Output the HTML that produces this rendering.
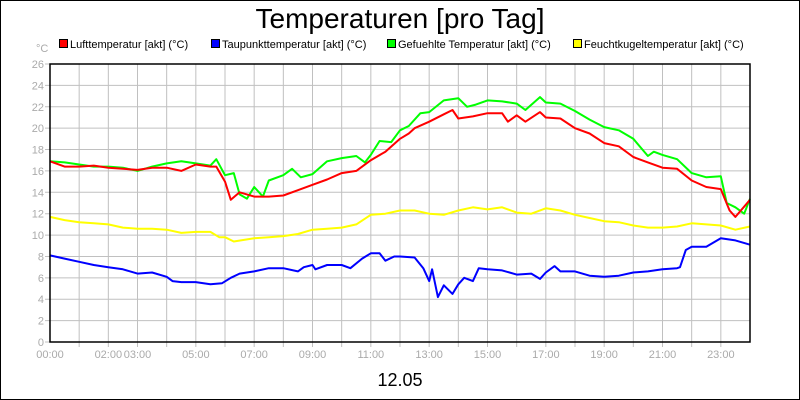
<!DOCTYPE html>
<html><head><meta charset="utf-8"><style>
body{margin:0;background:#fff}
svg{display:block;font-family:"Liberation Sans",sans-serif}
</style></head><body>
<svg id="chart" width="800" height="400" viewBox="0 0 800 400" xmlns="http://www.w3.org/2000/svg">
<rect x="0.5" y="0.5" width="799" height="399" fill="#fff" stroke="#000"/>
<text x="400" y="28" font-size="28" text-anchor="middle">Temperaturen [pro Tag]</text>
<g font-size="11">
<g><rect x="59.5" y="39.5" width="8" height="8" fill="#f00" stroke="#000"/><text x="70" y="48">Lufttemperatur [akt] (°C)</text></g>
<g><rect x="211.5" y="39.5" width="8" height="8" fill="#00f" stroke="#000"/><text x="222" y="48">Taupunkttemperatur [akt] (°C)</text></g>
<g><rect x="387.5" y="39.5" width="8" height="8" fill="#0f0" stroke="#000"/><text x="398" y="48">Gefuehlte Temperatur [akt] (°C)</text></g>
<g><rect x="573.5" y="39.5" width="8" height="8" fill="#ff0" stroke="#000"/><text x="584" y="48">Feuchtkugeltemperatur [akt] (°C)</text></g>
</g>
<text x="36" y="52" font-size="11" fill="#aaa">°C</text>
<g id="grid"></g><g id="series"></g>
<rect x="50" y="64" width="700" height="278" fill="none" stroke="#000" stroke-width="1.5"/>
<text x="400" y="386" font-size="18" text-anchor="middle">12.05</text>
</svg>
<script>
const yTicks=[0,2,4,6,8,10,12,14,16,18,20,22,24,26];
const xTickLabels=["00:00","02:00","03:00","05:00","07:00","09:00","11:00","13:00","15:00","17:00","19:00","21:00","23:00"];
const xTickHours=[0,2,3,5,7,9,11,13,15,17,19,21,23];
const luftH=[0,0.5,1,1.5,2,2.5,3,3.5,4,4.5,5,5.5,5.7,6,6.2,6.5,7,7.5,8,8.5,9,9.5,10,10.5,11,11.5,12,12.3,12.5,13,13.5,13.8,14,14.5,15,15.5,15.7,16,16.3,16.8,17,17.5,18,18.5,19,19.5,20,20.5,21,21.5,22,22.5,23,23.3,23.5,24];
const luftV=[16.9,16.4,16.4,16.5,16.3,16.2,16.1,16.3,16.3,16.0,16.6,16.4,16.4,15.0,13.3,14.0,13.6,13.6,13.7,14.2,14.7,15.2,15.8,16.0,17.0,17.8,19.0,19.5,20.0,20.6,21.3,21.7,20.9,21.1,21.4,21.4,20.6,21.2,20.6,21.5,21.0,20.9,20.0,19.5,18.6,18.3,17.3,16.8,16.3,16.2,15.1,14.5,14.3,12.3,11.7,13.3];
const gefH=[0,0.5,1,1.5,2,2.5,3,3.5,4,4.5,5,5.5,5.7,6,6.3,6.5,6.75,7,7.3,7.5,8,8.3,8.6,9,9.5,10,10.5,10.8,11,11.3,11.7,12,12.3,12.7,13,13.5,14,14.3,14.6,15,15.5,16,16.3,16.8,17,17.5,18,18.5,19,19.5,20,20.5,20.7,21,21.5,22,22.5,23,23.2,23.5,23.8,24];
const gefV=[16.9,16.8,16.6,16.4,16.4,16.3,16.0,16.4,16.7,16.9,16.7,16.5,17.1,15.6,15.8,13.8,13.4,14.5,13.6,15.1,15.6,16.2,15.4,15.7,16.9,17.2,17.4,16.8,17.5,18.8,18.7,19.8,20.2,21.4,21.5,22.6,22.8,22.0,22.2,22.6,22.5,22.3,21.7,22.9,22.4,22.3,21.6,20.8,20.1,19.8,19.0,17.4,17.8,17.5,17.1,15.8,15.4,15.5,13.0,12.6,12.0,13.4];
const feuchtH=[0,0.5,1,1.5,2,2.5,3,3.5,4,4.5,5,5.5,5.8,6,6.3,7,7.5,8,8.5,9,9.5,10,10.5,11,11.5,12,12.5,13,13.5,14,14.5,15,15.5,16,16.5,17,17.5,18,18.5,19,19.5,20,20.5,21,21.5,22,22.5,23,23.5,24];
const feuchtV=[11.7,11.4,11.2,11.1,11.0,10.7,10.6,10.6,10.5,10.2,10.3,10.3,9.8,9.8,9.4,9.7,9.8,9.9,10.1,10.5,10.6,10.7,11.0,11.9,12.0,12.3,12.3,12.0,11.9,12.3,12.6,12.4,12.6,12.1,12.0,12.5,12.3,11.9,11.6,11.3,11.2,10.9,10.7,10.7,10.8,11.1,11.0,10.9,10.5,10.8];
const taupH=[0,0.5,1,1.5,2,2.5,3,3.5,4,4.2,4.5,5,5.5,5.9,6.2,6.5,7,7.5,8,8.5,8.7,9,9.1,9.5,10,10.3,10.7,11,11.3,11.5,11.8,12,12.5,12.8,13,13.1,13.3,13.5,13.8,14,14.2,14.5,14.7,15,15.5,16,16.5,16.8,17,17.3,17.5,18,18.5,19,19.5,20,20.5,21,21.5,21.6,21.8,22,22.5,23,23.5,24];
const taupV=[8.1,7.8,7.5,7.2,7.0,6.8,6.4,6.5,6.1,5.7,5.6,5.6,5.4,5.5,6.0,6.4,6.6,6.9,6.9,6.6,7.0,7.2,6.8,7.2,7.2,6.9,7.8,8.3,8.3,7.6,8.0,8.0,7.9,6.9,5.7,6.8,4.2,5.3,4.5,5.4,6.0,5.7,6.9,6.8,6.7,6.3,6.4,5.9,6.5,7.1,6.6,6.6,6.2,6.1,6.2,6.5,6.6,6.8,6.9,7.0,8.6,8.9,8.9,9.7,9.5,9.1];
const NS="http://www.w3.org/2000/svg";
const X=h=>50+h*700/24, Y=v=>342-v*278/26;
const grid=document.getElementById('grid'), ser=document.getElementById('series');
function mk(tag,attrs,parent){const e=document.createElementNS(NS,tag);for(const k in attrs)e.setAttribute(k,attrs[k]);parent.appendChild(e);return e;}
for(let h=1;h<24;h++){
  const l=mk('line',{x1:X(h),x2:X(h),y1:64,y2:347,stroke:'#c0c0c0'},grid);
  
  
}
yTicks.forEach(v=>{
  const l=mk('line',{x1:45,x2:750,y1:Y(v),y2:Y(v),stroke:'#c0c0c0'},grid);
  
  
  const t=mk('text',{x:44,y:Y(v)+4,'font-size':11,'text-anchor':'end',fill:'#aaa'},grid);
  
  
  t.textContent=v;
});
xTickHours.forEach((h,i)=>{
  const t=mk('text',{x:X(h),y:358,'font-size':11,'text-anchor':'middle',fill:'#aaa'},grid);
  
  
  t.textContent=xTickLabels[i];
});
function line(hs,vs,color,name){
  const p=mk('polyline',{points:hs.map((h,i)=>X(h).toFixed(1)+','+Y(vs[i]).toFixed(1)).join(' '),fill:'none',stroke:color,'stroke-width':2,'stroke-linejoin':'round'},ser);
  
  
}
line(feuchtH,feuchtV,'#ffff00','feuchtkugel-line');
line(taupH,taupV,'#0000ff','taupunkt-line');
line(gefH,gefV,'#00ff00','gefuehlt-line');
line(luftH,luftV,'#ff0000','luft-line');
</script>
</body></html>
